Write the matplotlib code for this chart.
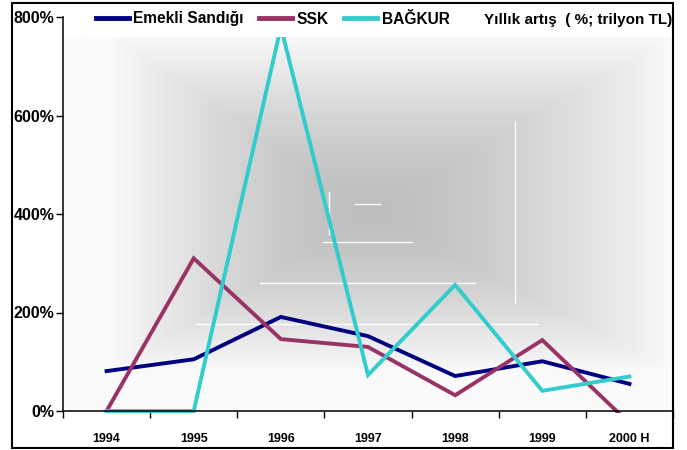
import numpy as np
import matplotlib
matplotlib.use("Agg")
import matplotlib.pyplot as plt
from matplotlib.patches import Rectangle

plt.rcParams['font.family'] = ['Liberation Sans', 'DejaVu Sans']
plt.rcParams['font.weight'] = 'bold'

# ---- data ----
years = ["1994", "1995", "1996", "1997", "1998", "1999", "2000 H"]
emekli = [81, 105, 191, 152, 71, 101, 55]
ssk = [0, 310, 146, 130, 32, 144, -25]
bagkur = [0, 0, 780, 73, 256, 41, 70]
series_names = ["Emekli Sandığı", "SSK", "BAĞKUR"]
series_colors = ["#000080", "#993366", "#33CCCC"]
yticks = [0, 200, 400, 600, 800]
ytick_labels = ["0%", "200%", "400%", "600%", "800%"]
note = "Yıllık artış  ( %; trilyon TL)"

W, H = 687, 450
fig = plt.figure(figsize=(W / 100, H / 100), dpi=100)
fig.patch.set_facecolor("white")

ax_l, ax_r, ax_b, ax_t = 63, 673, 411, 17
ax = fig.add_axes([ax_l / W, 1 - ax_b / H, (ax_r - ax_l) / W, (ax_b - ax_t) / H])
ax.set_facecolor("white")

def axx(px):
    return (px - ax_l) / (ax_r - ax_l)

def axy(py):
    return (ax_b - py) / (ax_b - ax_t)

# ---- background rectangular "from centre" gradient ----
gx0, gx1, gy0, gy1 = axx(110), axx(675), axy(372), axy(34)
cx, cy = axx(370), axy(212)
ix0, ix1, iy0, iy1 = axx(63), axx(673), axy(411), axy(37)
nx, ny = 500, 350
xs = np.linspace(ix0, ix1, nx)
ys = np.linspace(iy0, iy1, ny)
X, Y = np.meshgrid(xs, ys)
tx = np.where(X < cx, (cx - X) / (cx - gx0), (X - cx) / (gx1 - cx))
ty = np.where(Y < cy, (cy - Y) / (cy - gy0), (Y - cy) / (gy1 - cy))
t = np.clip(np.maximum(tx, ty), 0, 1)
c0 = 0.745
val = c0 + (0.982 - c0) * t ** 1.5
img = np.dstack([val, val, val])
ax.imshow(img, extent=[ix0, ix1, iy0, iy1], transform=ax.transAxes,
          origin="lower", aspect="auto", zorder=0, interpolation="bilinear")

# white artefact lines of the original fill
for (x0, x1, yy) in [(196, 538, 324), (260, 475, 283), (323, 412, 242), (355, 380, 204)]:
    ax.plot([axx(x0), axx(x1)], [axy(yy), axy(yy)], transform=ax.transAxes,
            color="white", lw=1, zorder=1)
for (xx, y0, y1) in [(329, 192, 234), (515, 122, 303)]:
    ax.plot([axx(xx), axx(xx)], [axy(y0), axy(y1)], transform=ax.transAxes,
            color="white", lw=1, zorder=1)

# ---- lines ----
x = np.arange(len(years))
clip_rect = Rectangle((-0.5, -5), 7, 810, transform=ax.transData, fill=False)
handles = []
for vals, name, col in zip([emekli, ssk, bagkur], series_names, series_colors):
    ln, = ax.plot(x, vals, color=col, lw=2.8, label=name, zorder=3,
                  solid_joinstyle="miter")
    ln.set_clip_path(clip_rect)
    handles.append(ln)

ax.set_xlim(-0.5, len(years) - 0.5)
ax.set_ylim(0, 800)

ax.set_yticks(yticks)
ax.set_yticklabels(ytick_labels, fontsize=11.5, fontweight="bold")
ax.tick_params(axis="y", direction="out", length=5, width=1, pad=1)

ax.set_xticks(x)
ax.set_xticklabels(years, fontsize=9, fontweight="bold")
ax.set_xticks(np.arange(len(years) + 1) - 0.5, minor=True)
ax.tick_params(axis="x", which="major", length=0, pad=16)
ax.tick_params(axis="x", which="minor", direction="out", length=5, width=1)

for s in ["top", "right"]:
    ax.spines[s].set_visible(False)
for s in ["left", "bottom"]:
    ax.spines[s].set_linewidth(1.1)
    ax.spines[s].set_color("black")
    ax.spines[s].set_zorder(4)

# white legend box covering top of plot
ax.add_patch(Rectangle((axx(85), axy(37)), axx(455) - axx(85), axy(4) - axy(37),
                       transform=ax.transAxes, facecolor="white", edgecolor="none",
                       zorder=5, clip_on=False))

leg = fig.legend(handles=handles, loc="center left",
                 bbox_to_anchor=(96 / W, 1 - 19 / H), ncol=3, frameon=False,
                 handlelength=2.1, handletextpad=0.3,
                 columnspacing=1.0, borderpad=0, borderaxespad=0,
                 prop={"weight": "bold", "size": 11.2})
for lh in leg.get_lines():
    lh.set_linewidth(3.5)
leg.set_zorder(6)

fig.text(672 / W, 1 - 20 / H, note, ha="right", va="center",
         fontsize=11, fontweight="bold", zorder=6)

# outer frame
fig.add_artist(Rectangle((12 / W, 1 - 448 / H), (673 - 12) / W, (448 - 3) / H,
                         transform=fig.transFigure, fill=False,
                         edgecolor="black", lw=1.5, zorder=10))

fig.savefig("out.png", dpi=100, facecolor="white")
